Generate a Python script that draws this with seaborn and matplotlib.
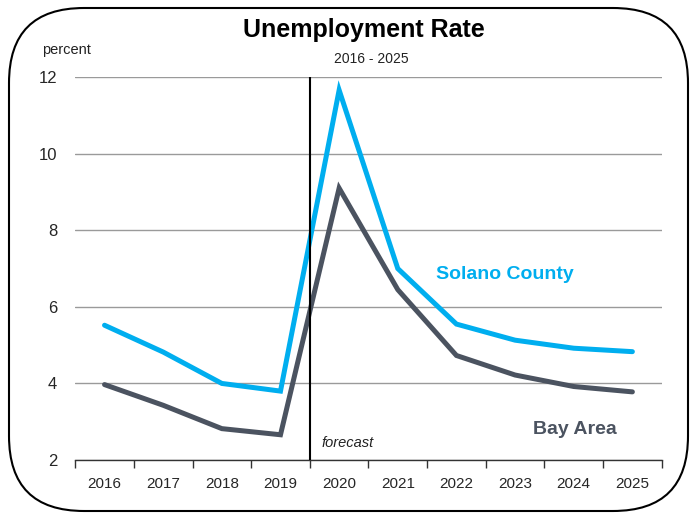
import matplotlib
matplotlib.use('Agg')
import matplotlib.pyplot as plt
import seaborn as sns
import pandas as pd
from matplotlib.patches import FancyBboxPatch

# Datos
years = [2016, 2017, 2018, 2019, 2020, 2021, 2022, 2023, 2024, 2025]
solano = [5.52, 4.82, 4.0, 3.8, 11.66, 7.0, 5.55, 5.13, 4.92, 4.83]
bay_area = [3.97, 3.43, 2.82, 2.66, 9.1, 6.45, 4.73, 4.22, 3.92, 3.78]
y_ticks = [2, 4, 6, 8, 10, 12]
forecast_start = 2019.5

sns.set_theme(style='white')
plt.rcParams['font.family'] = ['Liberation Sans Narrow', 'Liberation Sans', 'DejaVu Sans']

blue = '#00AEEF'
grey = '#4B5360'

df = pd.DataFrame({
    'year': years * 2,
    'rate': solano + bay_area,
    'area': ['Solano County'] * len(years) + ['Bay Area'] * len(years),
})

fig = plt.figure(figsize=(6.9, 5.14), dpi=100)
ax = fig.add_axes([0.109, 0.105, 0.85, 0.745])

sns.lineplot(data=df, x='year', y='rate', hue='area',
             palette={'Solano County': blue, 'Bay Area': grey},
             linewidth=3.6, legend=False, ax=ax)
for line in ax.lines:
    line.set_solid_joinstyle('miter')
    line.set_solid_capstyle('round')

ax.set_xlim(years[0] - 0.5, years[-1] + 0.5)
ax.set_ylim(2, 12)
ax.set_yticks(y_ticks)
ax.set_yticklabels([str(v) for v in y_ticks], fontsize=12)
ax.yaxis.grid(True, color='#9A9A9A', linewidth=1)
ax.tick_params(axis='y', length=0, pad=13)

# ticks en los limites de cada categoria, etiquetas al centro
ax.set_xticks([y - 0.5 for y in years] + [years[-1] + 0.5])
ax.set_xticklabels([])
ax.set_xticks(years, minor=True)
ax.set_xticklabels([str(y) for y in years], minor=True, fontsize=11)
ax.tick_params(axis='x', which='major', length=6, width=1, color='#333333',
               direction='out', bottom=True)
ax.tick_params(axis='x', which='minor', length=0, pad=12)

for s in ['top', 'right', 'left']:
    ax.spines[s].set_visible(False)
ax.spines['bottom'].set_color('#333333')
ax.spines['bottom'].set_linewidth(1)
ax.set_xlabel('')
ax.set_ylabel('')

ax.axvline(forecast_start, color='black', linewidth=1.5, zorder=5)
ax.text(forecast_start + 0.2, 2.45, 'forecast', fontsize=10.5, style='italic',
        ha='left', va='center', color='#222222')

ax.text(2021.65, 6.85, 'Solano County', fontsize=14, fontweight='bold',
        color=blue, ha='left', va='center')
ax.text(2023.3, 2.8, 'Bay Area', fontsize=14, fontweight='bold',
        color=grey, ha='left', va='center')

fig.text(0.527, 0.941, 'Unemployment Rate', fontsize=18, fontweight='bold',
         ha='center', va='center', color='black')
fig.text(0.538, 0.885, '2016 - 2025', fontsize=10, ha='center', va='center',
         color='#222222')
fig.text(0.061, 0.902, 'percent', fontsize=10.5, ha='left', va='center',
         color='#222222')

# marco redondeado
frame = FancyBboxPatch((9, 3), 679, 503, boxstyle='round,pad=0,rounding_size=75',
                       transform=None, facecolor='none', edgecolor='black',
                       linewidth=1.5, zorder=10)
fig.patches.append(frame)

fig.savefig('out.png', dpi=100)
